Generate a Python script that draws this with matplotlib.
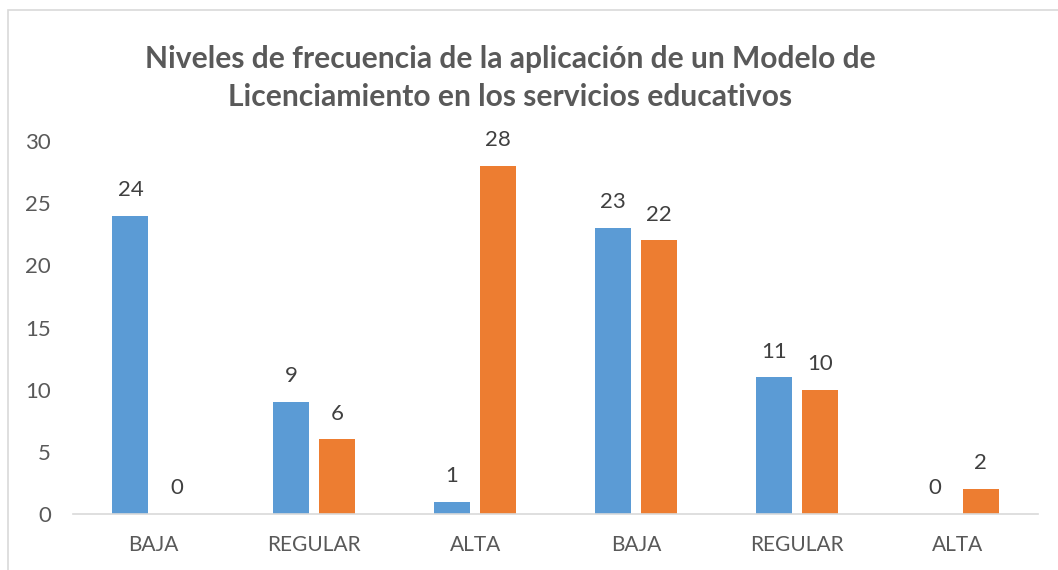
import matplotlib
matplotlib.use("Agg")
import matplotlib.pyplot as plt
import numpy as np
from matplotlib.patches import Rectangle

categories = ["BAJA", "REGULAR", "ALTA", "BAJA", "REGULAR", "ALTA"]
series_blue = [24, 9, 1, 23, 11, 0]
series_orange = [0, 6, 28, 22, 10, 2]
yticks = [0, 5, 10, 15, 20, 25, 30]
title = "Niveles de frecuencia de la aplicación de un Modelo de\nLicenciamiento en los servicios educativos"

plt.rcParams['font.family'] = ['Lato', 'DejaVu Sans']

W, H = 1058, 570
fig = plt.figure(figsize=(W / 100, H / 100), dpi=100)
fig.patch.set_facecolor("white")

# chart border (cropped on right/bottom)
fig.patches.append(Rectangle((8 / W, -0.1), 1.2, 1 - 10 / H + 0.1, transform=fig.transFigure,
                             fill=False, edgecolor="#D9D9D9", linewidth=1.2))

ax = fig.add_axes([73 / W, 1 - 514 / H, (1038 - 73) / W, (514 - 141) / H])
x = np.arange(len(categories))
bw = 0.224
off = 0.143
b1 = ax.bar(x - off, series_blue, bw, color="#5B9BD5")
b2 = ax.bar(x + off, series_orange, bw, color="#ED7D31")

for bars, vals in ((b1, series_blue), (b2, series_orange)):
    for rect, v in zip(bars, vals):
        ax.annotate(str(v), (rect.get_x() + rect.get_width() / 2, v),
                    xytext=(0, 18.5), textcoords="offset points",
                    ha="center", va="center", fontsize=16, color="#404040")

ax.set_xlim(-0.5, len(categories) - 0.5)
ax.set_ylim(0, 30)
ax.set_yticks(yticks)
ax.set_xticks(x)
ax.set_xticklabels(categories)
ax.tick_params(axis="y", length=0, pad=16, labelsize=16, labelcolor="#595959")
ax.tick_params(axis="x", length=0, pad=15, labelsize=15, labelcolor="#595959")
for s in ["top", "right", "left"]:
    ax.spines[s].set_visible(False)
ax.spines["bottom"].set_color("#D9D9D9")
ax.spines["bottom"].set_linewidth(1.2)

fig.text(510 / W, 1 - 78 / H, title, ha="center", va="center", fontsize=21.6,
         fontweight="bold", color="#595959", linespacing=1.42)

fig.savefig("out.png", dpi=100)
